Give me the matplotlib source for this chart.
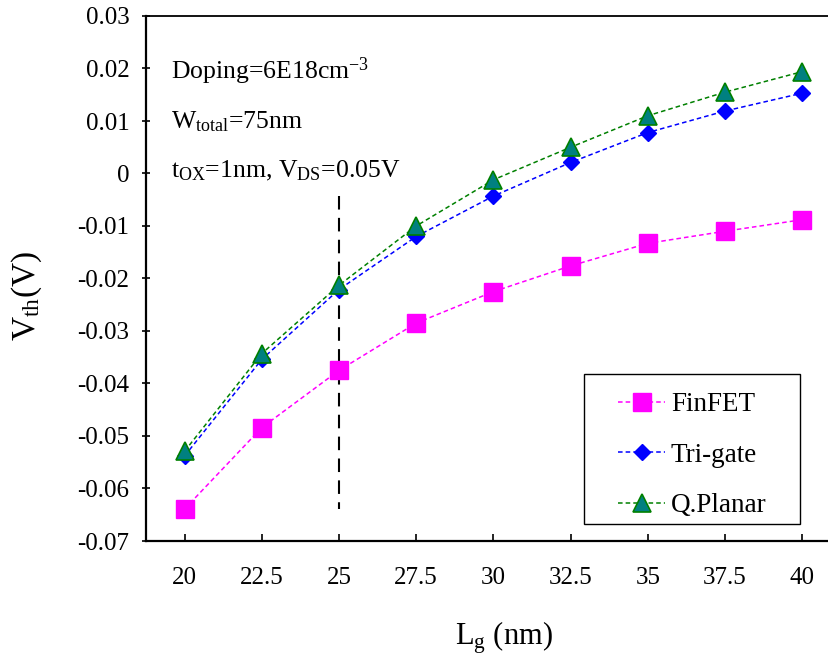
import matplotlib
matplotlib.use("Agg")
import matplotlib.pyplot as plt
from matplotlib.patches import Rectangle

plt.rcParams['font.family'] = ['Liberation Serif', 'DejaVu Serif']
plt.rcParams['mathtext.fontset'] = 'custom'
plt.rcParams['mathtext.rm'] = 'Liberation Serif'
plt.rcParams['mathtext.it'] = 'Liberation Serif:italic'
plt.rcParams['mathtext.bf'] = 'Liberation Serif:bold'

# ---- data ----
lg_labels = ['20', '22.5', '25', '27.5', '30', '32.5', '35', '37.5', '40']
finfet = [-0.0639, -0.0484, -0.0375, -0.0285, -0.0225, -0.0176, -0.0133, -0.0110, -0.0088]
trigate = [-0.0538, -0.0354, -0.0221, -0.0120, -0.0043, 0.0021, 0.0078, 0.0119, 0.0153]
qplanar = [-0.0529, -0.0343, -0.0213, -0.0100, -0.0012, 0.0050, 0.0110, 0.0155, 0.0194]
y_ticks = [0.03, 0.02, 0.01, 0, -0.01, -0.02, -0.03, -0.04, -0.05, -0.06, -0.07]
y_tick_labels = ['0.03', '0.02', '0.01', '0', '-0.01', '-0.02', '-0.03', '-0.04', '-0.05', '-0.06', '-0.07']
cut_index = 2          # Lg = 25 nm reference line
cut_range = [-0.0043, -0.0640]

W, H = 829, 659
fig = plt.figure(figsize=(W / 100, H / 100), dpi=100)
ax = fig.add_axes([146 / W, (H - 541) / H, 1 - 146 / W, (541 - 16) / H])

x = list(range(len(lg_labels)))
ls = (0, (3, 2))
ax.plot(x, finfet, linestyle=ls, color='#FF00FF', lw=1.1, marker='s', ms=13,
        mfc='#FF00FF', mec='#FF00FF', label='FinFET', zorder=3)
ax.plot(x, trigate, linestyle=ls, color='#0000FF', lw=1.1, marker='D', ms=8.5,
        mfc='#0000FF', mec='#0000FF', label='Tri-gate', zorder=4)
ax.plot(x, qplanar, linestyle=ls, color='#008000', lw=1.1, marker='^', ms=13,
        mfc='#008080', mec='#008000', mew=1.2, label='Q.Planar', zorder=5)

ax.plot([x[cut_index], x[cut_index]], cut_range, color='black', lw=1.5,
        linestyle=(0, (6.5, 4)), zorder=2)

ax.set_xlim(-0.5, (W - 146) / 77.2 - 0.5)
ax.set_ylim(-0.07, 0.03)
ax.set_xticks(x)
ax.set_xticklabels(lg_labels)
ax.set_yticks(y_ticks)
ax.set_yticklabels(y_tick_labels)

for s in ['left', 'bottom']:
    ax.spines[s].set_linewidth(1.6)
ax.spines['top'].set_linewidth(1.3)
ax.spines['right'].set_visible(False)

ax.tick_params(axis='y', direction='inout', length=6, width=1.2, labelsize=18, pad=9)
ax.tick_params(axis='x', direction='in', length=5, width=1.2, labelsize=18, pad=19)

# axis labels
fig.text(503.5 / W, (H - 645) / H, r'L$_{\mathrm{g}}$ (nm)', fontsize=22,
         ha='center', va='baseline')
fig.text(27 / W, (H - 296) / H, r'V$_{\mathrm{th}}$(V)', fontsize=24,
         ha='center', va='center', rotation=90)

# annotations
fig.text(171 / W, (H - 79) / H, r'Doping=6E18cm$^{\mathrm{-3}}$', fontsize=18.5, va='baseline')
fig.text(171 / W, (H - 128) / H, r'W$_{\mathrm{total}}$=75nm', fontsize=18.5, va='baseline')
fig.text(171 / W, (H - 177) / H, r't$_{\mathrm{OX}}$=1nm, V$_{\mathrm{DS}}$=0.05V', fontsize=18.5, va='baseline')

# legend
frame = Rectangle((584 / W, (H - 524) / H), (800 - 584) / W, (524 - 374) / H,
                  transform=fig.transFigure, fill=True, facecolor='white',
                  edgecolor='black', lw=1.0, zorder=6, clip_on=False)
ax.add_patch(frame)
leg = ax.legend(loc='upper left', bbox_to_anchor=(618 / W, (H - 392) / H),
                bbox_transform=fig.transFigure, frameon=False, fontsize=19.5,
                borderpad=0, borderaxespad=0, handlelength=1.75, handletextpad=0.2,
                labelspacing=0.95, numpoints=1)
leg.set_zorder(7)

fig.savefig('out.png', dpi=100)
